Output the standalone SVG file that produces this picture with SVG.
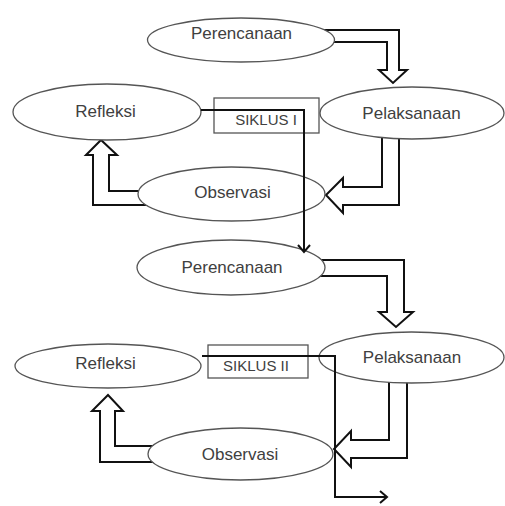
<svg xmlns="http://www.w3.org/2000/svg" width="505" height="506" viewBox="0 0 505 506">
<style>
.block{fill:none;stroke:#111;stroke-width:2;stroke-linejoin:miter}
.ell{fill:#fff;stroke:#555;stroke-width:1.3}
.box{fill:none;stroke:#555;stroke-width:1.3}
.lbl{font-family:"Liberation Sans",Arial,sans-serif;font-size:17px;fill:#404040;text-anchor:middle}
.sik{font-family:"Liberation Sans",Arial,sans-serif;font-size:15px;fill:#404040;text-anchor:middle}
.flow{fill:none;stroke:#111;stroke-width:2}
</style>
<defs>
<marker id="open" markerUnits="userSpaceOnUse" markerWidth="16" markerHeight="16" refX="8" refY="8" orient="auto" viewBox="0 0 16 16">
<path d="M1,2 L8,8 L1,14" fill="none" stroke="#111" stroke-width="2"/>
</marker>
</defs>
<rect width="505" height="506" fill="#fff"/>
<g id="block-arrows">
<polyline class="block" points="320,30 399,30 399,70 407,70 393,83 379,70 387,70 387,42 320,42"/>
<polyline class="block" points="382,130 382,187 343,187 343,178 326,195 343,213 343,205 399,205 399,130"/>
<polyline class="block" points="150,191 109,191 109,155 117,155 101,140 86,155 93,155 93,205 160,205"/>
<polyline class="block" points="310,260 404,260 404,312 413,312 396,327 379,312 387,312 387,276 310,276"/>
<polyline class="block" points="389,375 389,440 351,440 351,431 334,449 351,467 351,458 407,458 407,375"/>
<polyline class="block" points="160,446 115,446 115,411 123,411 108,395 92,411 100,411 100,462 165,462"/>
</g>
<g id="perencanaan1"><ellipse class="ell" cx="241" cy="40" rx="93.5" ry="22"/><text class="lbl" x="241.5" y="39">Perencanaan</text></g>
<g id="refleksi1"><ellipse class="ell" cx="107" cy="112" rx="94" ry="28"/><text class="lbl" x="105.5" y="117">Refleksi</text></g>
<g id="pelaksanaan1"><ellipse class="ell" cx="412" cy="113" rx="92" ry="26"/><text class="lbl" x="411.5" y="119">Pelaksanaan</text></g>
<g id="observasi1"><ellipse class="ell" cx="231.5" cy="194" rx="93.5" ry="27"/><text class="lbl" x="232.5" y="198">Observasi</text></g>
<g id="siklus1"><rect class="box" x="214" y="98" width="105" height="35"/><text class="sik" x="266" y="125">SIKLUS I</text></g>
<g id="perencanaan2"><ellipse class="ell" cx="231" cy="267.5" rx="94" ry="27.5"/><text class="lbl" x="232" y="273">Perencanaan</text></g>
<g id="refleksi2"><ellipse class="ell" cx="108" cy="366" rx="93" ry="22"/><text class="lbl" x="105.5" y="369">Refleksi</text></g>
<g id="pelaksanaan2"><ellipse class="ell" cx="411.5" cy="357.5" rx="92.5" ry="25.5"/><text class="lbl" x="412" y="363">Pelaksanaan</text></g>
<g id="observasi2"><ellipse class="ell" cx="240.5" cy="454" rx="92.5" ry="26"/><text class="lbl" x="240" y="460">Observasi</text></g>
<g id="siklus2"><rect class="box" x="208" y="345" width="100" height="33"/><text class="sik" x="256" y="371">SIKLUS II</text></g>
<g id="connectors">
<polyline class="flow" points="201,110 304,110 304,252" marker-end="url(#open)"/>
<polyline class="flow" points="202,356 335,356 335,497 387,497" marker-end="url(#open)"/>
</g>
</svg>
